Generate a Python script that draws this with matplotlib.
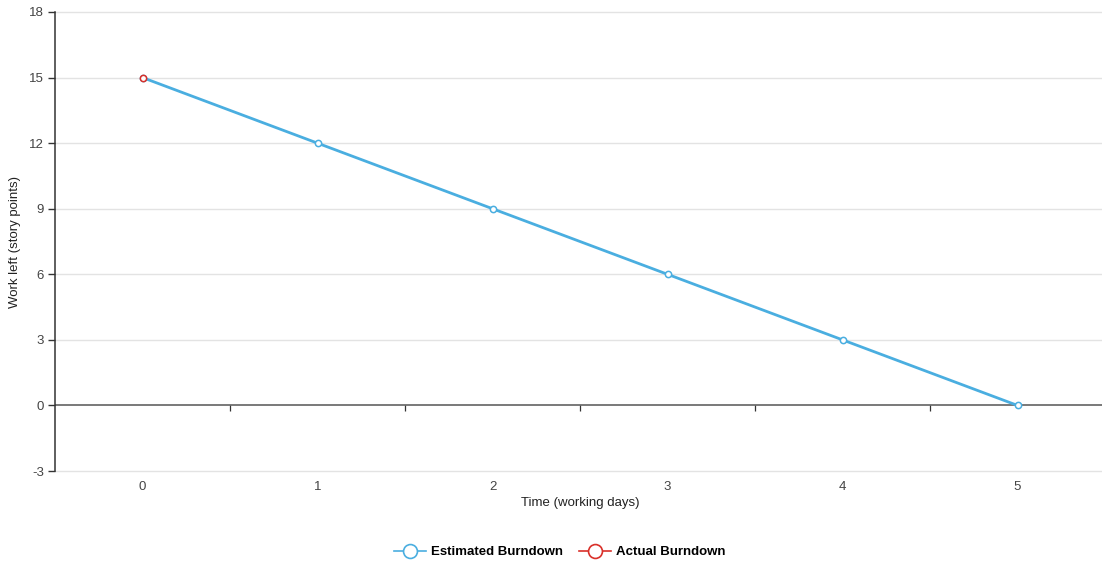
import matplotlib
matplotlib.use("Agg")
import matplotlib.pyplot as plt
from matplotlib.lines import Line2D

plt.rcParams['font.family'] = ['Liberation Sans', 'DejaVu Sans']

days = [0, 1, 2, 3, 4, 5]
estimated = [15, 12, 9, 6, 3, 0]
actual_days = [0]
actual = [15]
y_ticks = [-3, 0, 3, 6, 9, 12, 15, 18]

blue = '#4aaee0'
red = '#d9302a'

fig = plt.figure(figsize=(11.02, 5.64), dpi=100)
ax = fig.add_axes([55/1102, 1 - 471/564, 1050/1102, (471-12)/564])

ax.set_xlim(-0.5, 5.5)
ax.set_ylim(-3, 18)

for y in y_ticks:
    if y != 0:
        ax.axhline(y, color='#e3e3e3', lw=1.0, zorder=0, clip_on=False)
ax.axhline(0, color='#555555', lw=1.1, zorder=1)

ax.plot(days, estimated, color=blue, lw=2, marker='o', ms=4.5,
        mfc='white', mec=blue, mew=1.1, zorder=3)
ax.plot(actual_days, actual, color=red, lw=2, marker='o', ms=4.5,
        mfc='white', mec=red, mew=1.1, zorder=4)

for s in ['top', 'right', 'bottom']:
    ax.spines[s].set_visible(False)
ax.spines['left'].set_color('#333333')
ax.spines['left'].set_linewidth(1.1)
ax.spines['left'].set_zorder(5)

ax.set_yticks(y_ticks)
ax.set_yticklabels([str(v) for v in y_ticks])
ax.tick_params(axis='y', length=5, width=1, color='#333333', labelsize=9.5,
               labelcolor='#444444', pad=3)
ax.set_xticks(days)
ax.set_xticklabels([str(d) for d in days])
ax.tick_params(axis='x', length=0, labelsize=9.5, labelcolor='#444444', pad=7)

sec = ax.secondary_xaxis(3/21)
sec.spines['bottom'].set_visible(False)
sec.set_xticks([0.5, 1.5, 2.5, 3.5, 4.5])
sec.set_xticklabels([])
sec.tick_params(axis='x', length=4, width=0.9, color='#333333', direction='out')

ax.set_xlabel('Time (working days)', fontsize=9.5, color='#222222', labelpad=3)
ax.set_ylabel('Work left (story points)', fontsize=9.5, color='#222222', labelpad=6)

handles = [
    Line2D([], [], color=blue, lw=1.2, marker='o', ms=10, mfc='white', mec=blue, mew=1.2),
    Line2D([], [], color=red, lw=1.2, marker='o', ms=10, mfc='white', mec=red, mew=1.2),
]
leg = fig.legend(handles, ['Estimated Burndown', 'Actual Burndown'],
                 loc='center', bbox_to_anchor=(560/1102, 1 - 552/564), ncol=2,
                 frameon=False, handlelength=2.4, handletextpad=0.4,
                 columnspacing=1.2, prop={'weight': 'bold', 'size': 9.5})

fig.savefig('out.png', dpi=100)
